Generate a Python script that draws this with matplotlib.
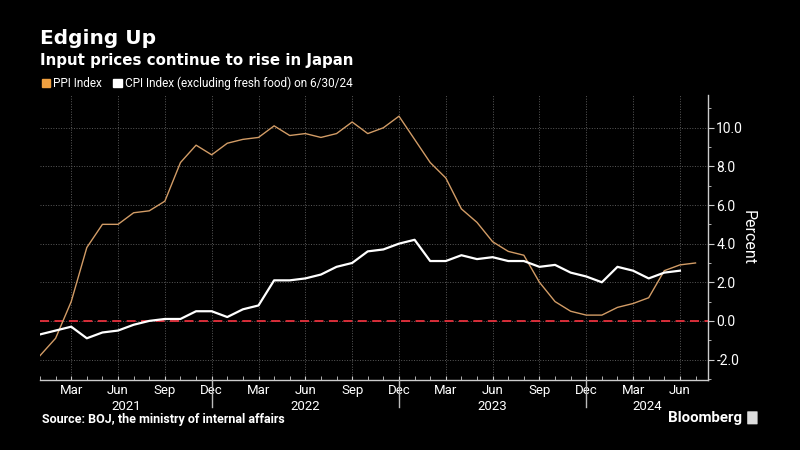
import numpy as np
import matplotlib
matplotlib.use('Agg')
import matplotlib.pyplot as plt
from matplotlib.patches import Patch, FancyBboxPatch
from matplotlib.ticker import FixedLocator, MultipleLocator, FormatStrFormatter

# monthly year-on-year %, Jan 2021 onwards
ppi = [-1.8, -0.9, 1.0, 3.8, 5.0, 5.0, 5.6, 5.7, 6.2, 8.2, 9.1, 8.6,
       9.2, 9.4, 9.5, 10.1, 9.6, 9.7, 9.5, 9.7, 10.3, 9.7, 10.0, 10.6,
       9.4, 8.2, 7.4, 5.8, 5.1, 4.1, 3.6, 3.4, 2.0, 1.0, 0.5, 0.3,
       0.3, 0.7, 0.9, 1.2, 2.6, 2.9, 3.0]
cpi = [-0.7, -0.5, -0.3, -0.9, -0.6, -0.5, -0.2, 0.0, 0.1, 0.1, 0.5, 0.5,
       0.2, 0.6, 0.8, 2.1, 2.1, 2.2, 2.4, 2.8, 3.0, 3.6, 3.7, 4.0,
       4.2, 3.1, 3.1, 3.4, 3.2, 3.3, 3.1, 3.1, 2.8, 2.9, 2.5, 2.3,
       2.0, 2.8, 2.6, 2.2, 2.5, 2.6]
quarter_names = ['Mar', 'Jun', 'Sep', 'Dec']
years = ['2021', '2022', '2023', '2024']

narrow = ['Liberation Sans Narrow', 'Roboto', 'DejaVu Sans']
ppi_color = '#f0a040'
grid_color = '#5a5a5a'

fig = plt.figure(figsize=(8, 4.5), dpi=100, facecolor='black')
ax = fig.add_axes([0.05, 0.156, 0.835, 0.633], facecolor='black')

ax.plot(np.arange(len(ppi)), ppi, color='#d29c66', lw=1.0, zorder=3)
ax.plot(np.arange(len(cpi)), cpi, color='white', lw=1.6, zorder=4)
ax.axhline(0, color='#e8303c', lw=1.3, dashes=(5, 3), zorder=2)

ax.set_xlim(0, 42.8)
ax.set_ylim(-3.05, 11.7)

# x axis: quarter labels, monthly ticks
qpos = np.arange(2, 42, 3)
ax.xaxis.set_major_locator(FixedLocator(qpos))
ax.set_xticklabels([quarter_names[i % 4] for i in range(len(qpos))],
                   family=narrow, fontsize=9.5, color='white')
ax.xaxis.set_minor_locator(MultipleLocator(1))
ax.tick_params(axis='x', which='both', direction='in', length=3,
               color='#cccccc', pad=3)

# y axis on the right
ax.yaxis.tick_right()
ax.yaxis.set_major_locator(MultipleLocator(2))
ax.yaxis.set_minor_locator(MultipleLocator(1))
ax.yaxis.set_major_formatter(FormatStrFormatter('%.1f'))
ax.tick_params(axis='y', which='major', direction='out', length=4,
               color='#cccccc', labelcolor='white', labelsize=10, pad=2)
ax.tick_params(axis='y', which='minor', direction='out', length=2.5,
               color='#cccccc')
for lab in ax.get_yticklabels():
    lab.set_family(narrow)
ax.yaxis.set_label_position('right')
ax.set_ylabel('Percent', color='white', fontsize=11.5, family=narrow,
              rotation=270, labelpad=9)

ax.grid(True, which='major', color=grid_color, lw=0.7, ls=':')

for s in ['left', 'top']:
    ax.spines[s].set_visible(False)
for s in ['bottom', 'right']:
    ax.spines[s].set_color('#cccccc')
    ax.spines[s].set_linewidth(1.0)

# year labels and separators below the axis
xt = ax.get_xaxis_transform()
bounds = [0, 11, 23, 35, 42.8]
for i, yr in enumerate(years):
    ax.text((bounds[i] + bounds[i + 1]) / 2, -0.092, yr, transform=xt,
            ha='center', va='center', color='white', fontsize=9.5,
            family=narrow, clip_on=False)
for b in bounds[1:4]:
    ax.plot([b, b], [0, -0.095], transform=xt, color='#bbbbbb', lw=1.0,
            clip_on=False, zorder=5, snap=True)

# titles
fig.text(0.05, 0.915, 'Edging Up', color='white', fontsize=14.5,
         fontweight='bold', ha='left', va='center')
fig.text(0.05, 0.866, 'Input prices continue to rise in Japan', color='white',
         fontsize=10.8, fontweight='bold', ha='left', va='center')

handles = [Patch(color=ppi_color), Patch(color='white')]
fig.legend(handles, ['PPI Index', 'CPI Index (excluding fresh food) on 6/30/24'],
           loc='center left', bbox_to_anchor=(0.052, 0.815), ncol=2,
           frameon=False, handlelength=0.7, handleheight=0.7,
           handletextpad=0.25, columnspacing=1.0, borderaxespad=0,
           borderpad=0, labelcolor='white', prop={'family': narrow, 'size': 8.5})

fig.text(0.053, 0.068, 'Source: BOJ, the ministry of internal affairs',
         color='white', fontsize=9, fontweight='bold', family=narrow,
         ha='left', va='center')
fig.text(0.928, 0.072, 'Bloomberg', color='white', fontsize=10.8,
         fontweight='bold', family=narrow, ha='right', va='center')
fig.patches.append(FancyBboxPatch((0.935, 0.058), 0.011, 0.027,
                                  boxstyle='round,pad=0.001',
                                  transform=fig.transFigure,
                                  facecolor='#dddddd', edgecolor='none'))

fig.savefig('out.png', dpi=100, facecolor='black')
